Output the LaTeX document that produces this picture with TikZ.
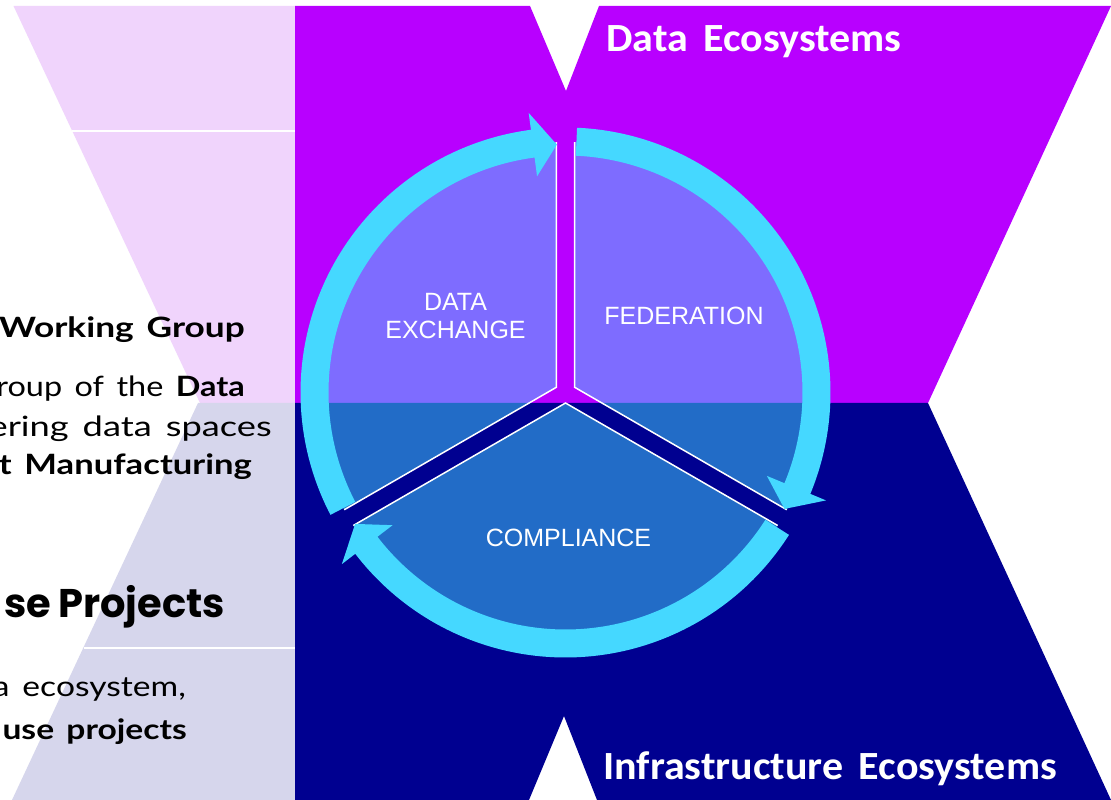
\documentclass[tikz,border=0pt]{standalone}
\usepackage{fontspec}
\setmainfont{Liberation Sans}
\newfontfamily\calibf[FakeStretch=1.05]{Carlito}
\newfontfamily\latof[FakeStretch=1.2, WordSpace=1.5]{Lato}
\newfontfamily\poppf[WordSpace=0.8]{Poppins}
\newfontfamily\arialf{Liberation Sans}
\definecolor{pinkbg}{RGB}{240,212,252}
\definecolor{lavbg}{RGB}{214,214,236}
\definecolor{purp}{RGB}{184,0,255}
\definecolor{navyc}{RGB}{0,0,144}
\definecolor{ringc}{RGB}{69,216,255}
\tikzset{
  secfill/.style={fill=ringc, fill opacity=0.5},
  secedge/.style={draw=white, line width=1.5pt, line join=miter},
  sectext/.style={text=white, inner sep=0pt, align=center, font=\arialf\fontsize{25}{28}\selectfont},
  titletext/.style={text=white, inner sep=0pt, anchor=base west, font=\calibf\bfseries\fontsize{40}{42}\selectfont},
  bodytext/.style={text=black, inner sep=0pt, anchor=base east, font=\latof\fontsize{28}{32}\selectfont},
  headtext/.style={text=black, inner sep=0pt, anchor=base east, font=\poppf\bfseries\fontsize{40}{44}\selectfont},
  sepline/.style={draw=white, line width=1.5pt}
}
\newcommand\mysector[3]{%
  \fill[secfill] (#3:10.5pt) -- ++(#1:245pt) arc[start angle=#1, end angle=#2, radius=245pt] -- cycle;
  \draw[secedge] (#3:10.5pt) ++(#1:245pt) -- (#3:10.5pt) -- ++(#2:245pt);
}
\newcommand\myarrow[3]{%
  \fill[ringc] (#1:265pt) arc[start angle=#1, end angle=#2, radius=265pt]
     -- (#2:282pt) -- (#3:248pt) -- (#2:218pt) -- (#2:237pt)
     arc[start angle=#2, end angle=#1, radius=237pt] -- cycle;
}
\begin{document}
\begin{tikzpicture}[x=1pt,y=1pt]
\useasboundingbox (0,0) rectangle (1111,800);
\clip (0,0) rectangle (1111,800);
\fill[white] (0,0) rectangle (1111,800);
% left panels
\fill[pinkbg] (13.5,794) -- (295,794) -- (295,397) -- (200,397) -- cycle;
\fill[lavbg] (198,397) -- (295,397) -- (295,0) -- (12,0) -- cycle;
\draw[sepline] (72,669) -- (295,669);
\draw[sepline] (84,152) -- (295,152);
% big X shapes
\fill[purp] (295,794) -- (530,794) -- (566,709) -- (599,794) -- (1111,794) -- (928,397) -- (295,397) -- cycle;
\fill[navyc] (295,397) -- (928,397) -- (1111,0) -- (597,0) -- (564,84) -- (529,0) -- (295,0) -- cycle;
% titles
\node[titletext] (tdata) at (606,748) {Data\hspace{0.15em} Ecosystems};
\node[titletext] (tinfra) at (603,20) {Infrastructure\hspace{0.15em} Ecosystems};
% left texts
\node[bodytext] (l1) at (245,462) {\scalebox{1.05}[1]{\bfseries Working Group}};
\node[bodytext] (l2) at (245,403) {\scalebox{0.965}[1]{roup of the \textbf{Data}}};
\node[bodytext] (l3) at (272,363) {\scalebox{1.08}[1]{ering data spaces}};
\node[bodytext] (l4) at (252,325) {\scalebox{1.03}[1]{\bfseries t Manufacturing}};
\node[headtext] (l5) at (225,182) {se Projects};
\node[bodytext] (l6) at (186,103) {a ecosystem,};
\node[bodytext] (l7) at (187,60) {\bfseries use projects};
% cycle
\begin{scope}[shift={(565.5,407.5)}]
  \mysector{90}{210}{150}
  \mysector{-30}{90}{30}
  \mysector{210}{330}{270}
  \myarrow{207.5}{97.5}{92}
  \myarrow{87.5}{-22.5}{-28}
  \myarrow{-32.5}{-142.5}{-148}
\end{scope}
\node[sectext] (sdx) at (455.5,483.5) {DATA\\EXCHANGE};
\node[sectext] (sfed) at (684,484) {FEDERATION};
\node[sectext] (scomp) at (568.5,262.5) {COMPLIANCE};
\end{tikzpicture}
\end{document}
